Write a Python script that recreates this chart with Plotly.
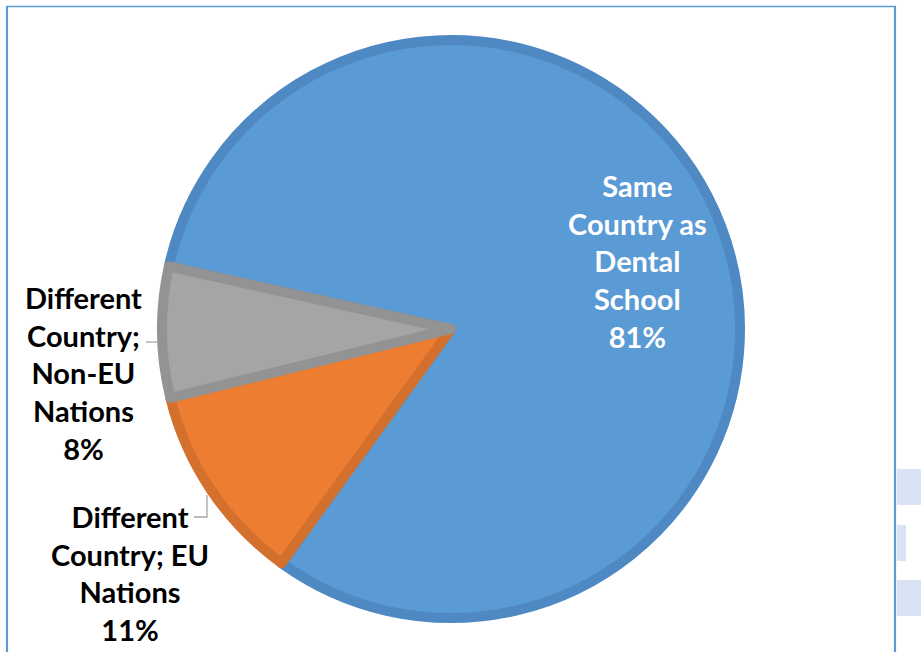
import plotly.graph_objects as go

# ---- data ----
categories = ["Same Country as Dental School",
              "Different Country; EU Nations",
              "Different Country; Non-EU Nations"]
label_lines = [["Same", "Country as", "Dental", "School"],
               ["Different", "Country; EU", "Nations"],
               ["Different", "Country;", "Non-EU", "Nations"]]
values = [81.5, 11.2, 7.3]          # slice sizes
pct_labels = ["81%", "11%", "8%"]   # percentages as printed on the chart

# ---- style ----
W, H = 921, 652
fills = ["#5B9BD5", "#ED7D31", "#A5A5A5"]
borders = ["#4F89C3", "#D4702D", "#939393"]

def px(x):
    return x / W

def py(y):
    return 1 - y / H

cx, cy, r = 451, 329, 289

fig = go.Figure()
fig.add_trace(go.Pie(
    labels=categories,
    values=values,
    sort=False,
    direction="clockwise",
    rotation=282.5,
    marker=dict(colors=fills, line=dict(color=borders, width=10)),
    textinfo="none",
    hoverinfo="skip",
    showlegend=False,
    domain=dict(x=[px(cx - r), px(cx + r)], y=[py(cy + r), py(cy - r)]),
))

def label_text(i):
    return "<br>".join(label_lines[i] + [pct_labels[i]])

font_main = dict(family="Lato", size=29, weight="bold")
ann_pos = [(637, 261, "white"), (130, 573, "black"), (83, 373, "black")]
for i, (ax, ay, col) in enumerate(ann_pos):
    fig.add_annotation(
        x=px(ax), y=py(ay), xref="paper", yref="paper",
        text=label_text(i), showarrow=False,
        xanchor="center", yanchor="middle", align="center",
        font=dict(color=col, **font_main),
    )

shapes = []
lead = "#A6A6A6"
# leader lines
shapes.append(dict(type="line", xref="paper", yref="paper",
                   x0=px(146), y0=py(342), x1=px(158), y1=py(342),
                   line=dict(color=lead, width=1.3)))
shapes.append(dict(type="path", xref="paper", yref="paper",
                   path=f"M {px(194)} {py(517)} L {px(207)} {py(517)} L {px(207)} {py(495)}",
                   line=dict(color=lead, width=1.3)))
# chart frame
frame = "#5B9BD5"
shapes.append(dict(type="line", xref="paper", yref="paper",
                   x0=px(6.5), y0=py(6.5), x1=px(896), y1=py(6.5),
                   line=dict(color=frame, width=1.5)))
shapes.append(dict(type="line", xref="paper", yref="paper",
                   x0=px(7), y0=py(6), x1=px(7), y1=py(652),
                   line=dict(color=frame, width=2.2)))
shapes.append(dict(type="line", xref="paper", yref="paper",
                   x0=px(895), y0=py(6), x1=px(895), y1=py(652),
                   line=dict(color=frame, width=2.2)))
# background blocks at right edge
for (x0, y0, x1, y1) in [(897, 469, 921, 505), (897, 525, 906, 561), (897, 580, 921, 616)]:
    shapes.append(dict(type="rect", xref="paper", yref="paper",
                       x0=px(x0), y0=py(y0), x1=px(x1), y1=py(y1),
                       fillcolor="#DAE3F3", line=dict(width=0), layer="below"))

fig.update_layout(
    width=W, height=H,
    margin=dict(l=0, r=0, t=0, b=0),
    paper_bgcolor="white", plot_bgcolor="white",
    shapes=shapes,
)

fig.write_html(
    "out.html",
    config={"displayModeBar": False},
    post_script="document.body.style.margin='0';document.body.style.overflow='hidden';",
)
